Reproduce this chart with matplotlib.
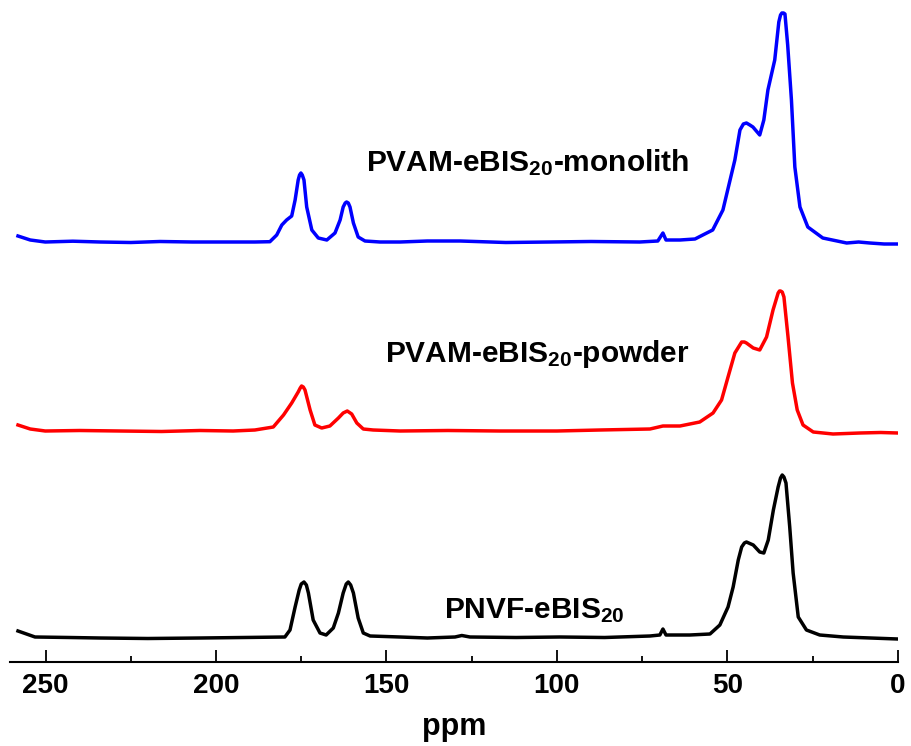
import matplotlib
matplotlib.use("Agg")
import matplotlib.pyplot as plt
from matplotlib.ticker import MultipleLocator

plt.rcParams['font.family'] = ['Liberation Sans', 'DejaVu Sans']
plt.rcParams['font.weight'] = 'bold'
plt.rcParams['mathtext.fontset'] = 'custom'
plt.rcParams['mathtext.default'] = 'bf'
plt.rcParams['mathtext.bf'] = 'Liberation Sans:bold'
plt.rcParams['mathtext.rm'] = 'Liberation Sans:bold'

# spectra: chemical shift (ppm) and intensity (a.u.)
ppm_monolith = [258.1, 254.5, 250.1, 242.0, 234.0, 225.0, 216.4, 207.0, 198.8, 188.6,
                184.2, 182.2, 180.7, 179.3, 177.8, 176.8, 175.9, 175.5, 175.1, 174.7,
                174.2, 173.4, 171.9, 170.0, 167.5, 165.1, 163.6, 162.7, 162.1, 161.7,
                161.2, 160.7, 159.7, 158.3, 156.3, 151.9, 146.0, 138.0, 128.4, 115.0,
                102.1, 90.0, 75.7, 70.4, 68.9, 68.0, 63.9, 59.5, 57.2, 54.3,
                51.3, 47.8, 46.3, 45.3, 44.4, 43.4, 42.5, 40.5, 39.3, 38.1,
                36.1, 34.9, 34.4, 34.0, 33.5, 33.1, 32.3, 31.2, 30.2, 28.7,
                26.4, 22.0, 15.0, 11.5, 8.2, 4.0, 0.0]
int_monolith = [6, 2, 0, 0.8, 0, -0.5, 0.5, 0, 0, 0,
                0.3, 7, 17, 22, 26, 42, 62, 67, 69, 67,
                62, 35, 12, 4, 2, 9, 22, 35, 39, 40,
                39, 35, 19, 5, 1, 0, 0, 1, 1, -0.5,
                0, 0.5, 0, 1, 9, 2, 2, 3, 7, 12,
                32, 82, 112, 118, 119, 117, 115, 107, 122, 152,
                182, 220, 227, 229, 229, 228, 197, 142, 75, 35,
                15, 4, -1, 0, -1, -2, -2]

ppm_powder = [258.1, 254.5, 250.1, 240.0, 228.2, 216.0, 204.7, 195.0, 188.6, 183.2,
              180.2, 177.8, 175.9, 175.3, 174.9, 174.4, 173.9, 172.4, 171.0, 169.0,
              166.6, 164.1, 162.7, 161.5, 160.2, 158.7, 156.8, 153.9, 146.0, 132.0,
              116.7, 100.0, 87.4, 72.7, 68.9, 63.9, 58.1, 54.2, 51.7, 49.8,
              47.8, 45.8, 45.0, 44.4, 42.4, 40.5, 38.5, 36.6, 35.1, 34.7,
              34.4, 33.9, 33.4, 32.2, 30.9, 29.5, 27.8, 24.8, 19.0, 11.1,
              5.0, 0.0]
int_powder = [6, 2, 0, 0.5, 0, -0.5, 0.5, 0, 1, 4,
              16, 28, 39, 43, 45, 44, 41, 21, 6, 3,
              5, 13, 18, 20, 17, 8, 2, 1, 0, 0.5,
              0, 0, 1, 2, 5, 5, 9, 18, 31, 54,
              78, 89, 89, 88, 83, 81, 94, 121, 138, 140,
              140, 139, 134, 94, 48, 21, 6, -1, -3, -2,
              -1.5, -2]

ppm_pnvf = [258.1, 253.1, 243.0, 234.0, 220.0, 204.7, 192.0, 179.8, 178.3, 176.8,
            175.6, 175.0, 174.2, 173.5, 172.9, 171.5, 169.5, 167.7, 165.6, 164.1,
            162.7, 161.8, 161.2, 160.5, 159.7, 158.3, 156.8, 154.8, 146.0, 138.0,
            129.9, 127.9, 125.5, 112.0, 99.1, 86.0, 72.7, 69.8, 68.9, 68.0,
            61.0, 55.1, 52.2, 49.8, 48.3, 46.8, 45.8, 45.0, 44.4, 42.4,
            40.5, 39.3, 38.0, 36.5, 35.1, 34.4, 33.9, 33.4, 32.8, 31.7,
            30.7, 29.2, 26.8, 22.9, 16.0, 8.0, 0.0]
int_pnvf = [7, 1, 0.5, 0, -0.5, 0, 0.5, 1, 8, 31,
            48, 54, 56, 53, 45, 18, 5, 3, 10, 25,
            45, 54, 56, 53, 45, 20, 5, 2, 1, 0,
            1, 2.5, 1, 0.5, 1, 0.5, 2, 3, 9, 3,
            3, 4, 13, 31, 51, 78, 91, 95, 96, 93,
            86, 85, 98, 128, 151, 160, 163, 161, 155, 111,
            65, 21, 8, 3, 1, 0, -1]

offsets = [420, 231, 24]
labels = [r'PVAM-eBIS$_{20}$-monolith', r'PVAM-eBIS$_{20}$-powder', r'PNVF-eBIS$_{20}$']
label_pos = [(156.0, 491), (150.4, 300.5), (133.1, 44)]
colors = ['#0000ff', '#ff0000', '#000000']

fig = plt.figure(figsize=(9.11, 7.46), dpi=100)
ax = fig.add_axes([0.0115, 0.1126, 0.974, 0.8874])

spectra = [(ppm_monolith, int_monolith), (ppm_powder, int_powder), (ppm_pnvf, int_pnvf)]
for (x, y), off, c in zip(spectra, offsets, colors):
    ax.plot(x, [v + off for v in y], color=c, lw=2.5, solid_joinstyle='round')

for txt, (tx, ty) in zip(labels, label_pos):
    ax.text(tx, ty, txt, fontsize=21.5, fontweight='bold', ha='left', va='baseline')

ax.set_xlim(260.3, 0)
ax.set_ylim(0, 662)
for s in ['left', 'right', 'top']:
    ax.spines[s].set_visible(False)
ax.spines['bottom'].set_linewidth(1.5)
ax.set_yticks([])
ax.xaxis.set_major_locator(MultipleLocator(50))
ax.xaxis.set_minor_locator(MultipleLocator(25))
ax.tick_params(axis='x', which='major', direction='in', length=8.6, width=1.3,
               labelsize=20, pad=8)
ax.tick_params(axis='x', which='minor', direction='in', length=4.3, width=1.3)
ax.set_xlabel('ppm', fontsize=22, fontweight='bold', labelpad=9)
ax.patch.set_alpha(0)

fig.savefig('out.png', dpi=100)
